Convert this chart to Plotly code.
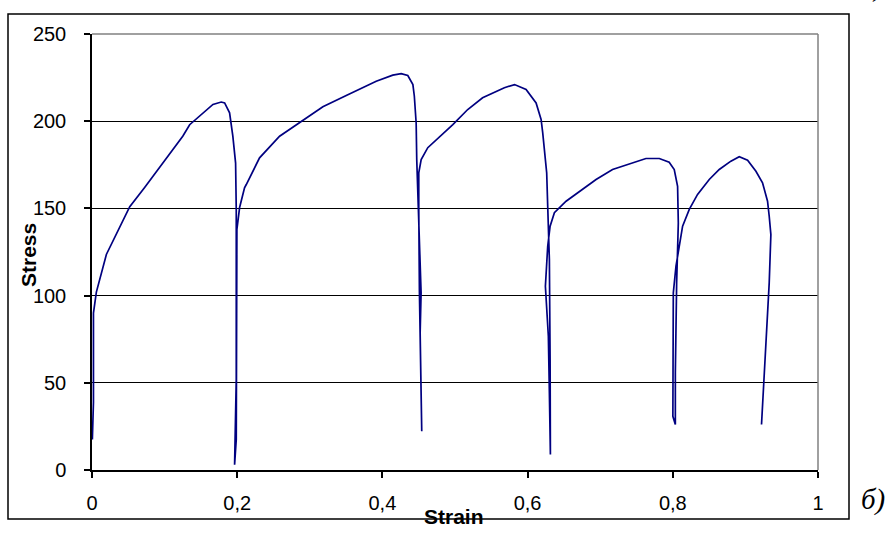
import plotly.graph_objects as go

# Stress-strain record of a cyclically reloaded specimen
strain = [
    0.0005, 0.002, 0.002, 0.006, 0.0198, 0.052, 0.0725, 0.084, 0.125, 0.1345,
    0.1666, 0.178, 0.1827, 0.1895, 0.194, 0.1978, 0.1987, 0.1987, 0.1964,
    0.1987, 0.1996, 0.2033, 0.2101, 0.2125, 0.2308, 0.2584, 0.2882, 0.318, 0.3502,
    0.3915, 0.4143, 0.4259, 0.435, 0.442, 0.444, 0.4465, 0.4473, 0.45, 0.4533,
    0.452, 0.4533, 0.4542,
    0.452, 0.451, 0.4501, 0.4501, 0.4534, 0.4625, 0.497, 0.5175, 0.538, 0.568,
    0.582, 0.5979, 0.6117, 0.6186, 0.6208, 0.6263, 0.6277, 0.63, 0.631, 0.6314,
    0.63, 0.6286, 0.6245, 0.6277, 0.631, 0.6369, 0.653, 0.6943, 0.717, 0.763,
    0.7814, 0.795, 0.802, 0.8066, 0.8076, 0.8053, 0.8035, 0.8035,
    0.8001, 0.8007, 0.8007, 0.8044, 0.8135, 0.8227, 0.8341, 0.8502, 0.864, 0.88,
    0.8915, 0.903, 0.9145, 0.9236, 0.9305, 0.9328, 0.9351, 0.9328, 0.9283, 0.9222,
]
stress = [
    17.5, 38.7, 90, 102, 123.6, 151, 162, 168.5, 191.4, 198,
    209.6, 211, 210.5, 204.8, 191.4, 176, 149, 52, 3,
    17.5, 138, 150.5, 161.8, 163.7, 179, 191.4, 200, 208.3, 214.7,
    222.9, 226.4, 227.3, 226.2, 221, 214.3, 199, 178, 139.8, 101.6,
    78.7, 44.3, 22.2,
    63.4, 101.7, 149.4, 170.4, 178, 184.8, 198, 206.7, 213.4, 219.2,
    221, 218.2, 210.5, 201, 193.4, 170.4, 151.3, 120.7, 63.4, 8.9,
    44.3, 76.7, 105.4, 128.3, 139.8, 147.5, 154.1, 166.6, 172.3, 178.6,
    178.6, 176.5, 172.3, 162.7, 141.7, 107.3, 55.7, 26.1,
    30.8, 65.2, 101.6, 116.9, 139.8, 149.4, 158, 166.6, 172.3, 177.1,
    179.6, 177.6, 171.3, 164.7, 154.1, 145.5, 135, 107.3, 71, 26.1,
]

x_ticks = [0, 0.2, 0.4, 0.6, 0.8, 1]
x_tick_text = ["0", "0,2", "0,4", "0,6", "0,8", "1"]
y_ticks = [0, 50, 100, 150, 200, 250]

W, H = 894, 549
L, R, T, B = 92, 76, 34, 79
PW, PH = W - L - R, H - T - B


def px(x):
    return (x - L) / PW


def py(y):
    return (H - B - y) / PH


fig = go.Figure()
fig.add_trace(go.Scatter(
    x=strain, y=stress, mode="lines",
    line=dict(color="#000080", width=1.7),
    hoverinfo="skip", showlegend=False,
))

font = "Liberation Sans, Arial, sans-serif"
fig.update_layout(
    width=W, height=H,
    margin=dict(l=L, r=R, t=T, b=B),
    paper_bgcolor="white", plot_bgcolor="white",
    xaxis=dict(
        range=[0, 1], tickvals=x_ticks, ticktext=x_tick_text,
        showgrid=False, zeroline=False,
        showline=True, linecolor="black", linewidth=1.5,
        ticks="outside", ticklen=6, tickcolor="black", tickwidth=1.5,
        ticklabelstandoff=8,
        tickfont=dict(family=font, size=20, color="black"),
    ),
    yaxis=dict(
        range=[0, 250], tickvals=y_ticks,
        showgrid=True, gridcolor="black", gridwidth=1.2,
        zeroline=False,
        showline=True, linecolor="black", linewidth=1.5,
        ticks="outside", ticklen=6, tickcolor="black", tickwidth=1.5,
        ticklabelstandoff=14,
        tickfont=dict(family=font, size=20, color="black"),
    ),
    shapes=[
        # plot-area border on the top and right sides
        dict(type="line", xref="paper", yref="paper", x0=0, x1=1, y0=1, y1=1,
             line=dict(color="#808080", width=1.5), layer="above"),
        dict(type="line", xref="paper", yref="paper", x0=1, x1=1, y0=0, y1=1,
             line=dict(color="#808080", width=1.5), layer="above"),
        # chart frame
        dict(type="rect", xref="paper", yref="paper",
             x0=px(8), x1=px(849), y0=py(519), y1=py(14),
             line=dict(color="black", width=1.5), layer="below"),
    ],
    annotations=[
        dict(text="<b>Strain</b>", xref="paper", yref="paper",
             x=px(454), y=py(516), xanchor="center", yanchor="middle",
             showarrow=False, font=dict(family=font, size=21, color="black")),
        dict(text="<b>Stress</b>", xref="paper", yref="paper",
             x=px(28), y=py(255), xanchor="center", yanchor="middle",
             textangle=-90, showarrow=False,
             font=dict(family=font, size=21, color="black")),
        dict(text="<i>б)</i>", xref="paper", yref="paper",
             x=px(873), y=py(499), xanchor="center", yanchor="middle",
             showarrow=False,
             font=dict(family="Liberation Serif, Times New Roman, serif",
                       size=29, color="black")),
        dict(text="<i>)</i>", xref="paper", yref="paper",
             x=px(877), y=py(4), xanchor="center", yanchor="bottom",
             showarrow=False,
             font=dict(family="Liberation Serif, Times New Roman, serif",
                       size=28, color="black")),
    ],
)

fig.write_html("out.html")
